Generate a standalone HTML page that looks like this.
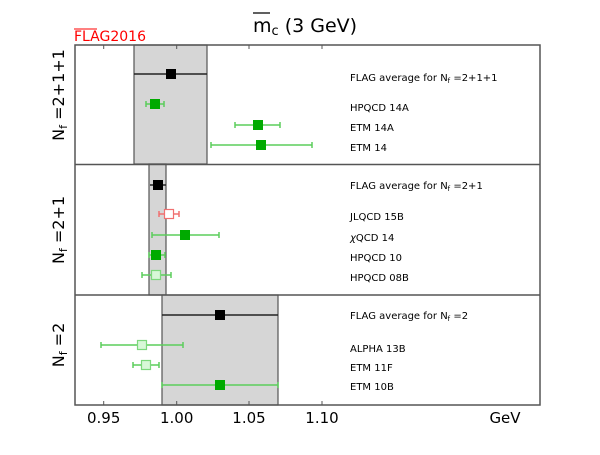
<!DOCTYPE html>
<html><head><style>
html,body{margin:0;padding:0;background:#fff}
svg text{font-family:"DejaVu Sans","Liberation Sans",sans-serif}
</style></head><body>
<svg width="600" height="450" xmlns="http://www.w3.org/2000/svg">
<rect width="600" height="450" fill="#fff"/>
<rect x="134" y="45" width="73" height="119" fill="#d6d6d6" stroke="#555" stroke-width="1.2"/>
<rect x="149" y="164" width="17" height="131" fill="#d6d6d6" stroke="#555" stroke-width="1.2"/>
<rect x="162" y="295" width="116" height="110" fill="#d6d6d6" stroke="#555" stroke-width="1.2"/>
<rect x="75" y="45" width="465" height="360" fill="none" stroke="#555" stroke-width="1.5"/>
<line x1="75" y1="164.5" x2="540" y2="164.5" stroke="#555" stroke-width="1.5"/>
<line x1="75" y1="295" x2="540" y2="295" stroke="#555" stroke-width="1.5"/>
<g stroke="#555" stroke-width="1">
<line x1="103.7" y1="405" x2="103.7" y2="401"/><line x1="176.7" y1="405" x2="176.7" y2="401"/><line x1="249" y1="405" x2="249" y2="401"/><line x1="322" y1="405" x2="322" y2="401"/>
<line x1="103.7" y1="45" x2="103.7" y2="49"/><line x1="176.7" y1="45" x2="176.7" y2="49"/><line x1="249" y1="45" x2="249" y2="49"/><line x1="322" y1="45" x2="322" y2="49"/>
</g>
<g font-size="15" text-anchor="middle" fill="#000">
<text x="103.7" y="423">0.95</text><text x="176.7" y="423">1.00</text><text x="249" y="423">1.05</text><text x="322" y="423">1.10</text>
</g>
<text x="505" y="423" font-size="15" text-anchor="middle">GeV</text>
<text x="253" y="32" font-size="19">m<tspan font-size="13" dy="3">c</tspan><tspan dy="-3"> (3 GeV)</tspan></text>
<line x1="253" y1="13" x2="270" y2="13" stroke="#000" stroke-width="1.2"/>
<text x="74" y="41" font-size="14" fill="#f00">FLAG2016</text>
<line x1="74" y1="29" x2="97" y2="29" stroke="#f00" stroke-width="1"/>
<g font-size="16" text-anchor="middle">
<text transform="translate(64,95) rotate(-90)">N<tspan font-size="11" dy="3">f</tspan><tspan dy="-3"> =2+1+1</tspan></text>
<text transform="translate(64,230) rotate(-90)">N<tspan font-size="11" dy="3">f</tspan><tspan dy="-3"> =2+1</tspan></text>
<text transform="translate(64,345) rotate(-90)">N<tspan font-size="11" dy="3">f</tspan><tspan dy="-3"> =2</tspan></text>
</g>
<g stroke="#222" stroke-width="1.5">
<line x1="134" y1="74" x2="207" y2="74"/><line x1="150" y1="185" x2="166" y2="185"/><line x1="162" y1="315" x2="278" y2="315"/>
</g>
<g fill="#000">
<rect x="166" y="69" width="10" height="10"/><rect x="153" y="180" width="10" height="10"/><rect x="215" y="310" width="10" height="10"/>
</g>
<g stroke="#5ccd5c" stroke-width="1.5">
<line x1="146" y1="104" x2="164" y2="104"/><line x1="146" y1="101" x2="146" y2="107"/><line x1="164" y1="101" x2="164" y2="107"/>
<line x1="235" y1="125" x2="280" y2="125"/><line x1="235" y1="122" x2="235" y2="128"/><line x1="280" y1="122" x2="280" y2="128"/>
<line x1="211" y1="145" x2="312" y2="145"/><line x1="211" y1="142" x2="211" y2="148"/><line x1="312" y1="142" x2="312" y2="148"/>
<line x1="152" y1="235" x2="219" y2="235"/><line x1="152" y1="232" x2="152" y2="238"/><line x1="219" y1="232" x2="219" y2="238"/>
<line x1="149" y1="255" x2="165" y2="255"/><line x1="149" y1="252" x2="149" y2="258"/><line x1="165" y1="252" x2="165" y2="258"/>
<line x1="142" y1="275" x2="171" y2="275"/><line x1="142" y1="272" x2="142" y2="278"/><line x1="171" y1="272" x2="171" y2="278"/>
<line x1="101" y1="345" x2="183" y2="345"/><line x1="101" y1="342" x2="101" y2="348"/><line x1="183" y1="342" x2="183" y2="348"/>
<line x1="133" y1="365" x2="159" y2="365"/><line x1="133" y1="362" x2="133" y2="368"/><line x1="159" y1="362" x2="159" y2="368"/>
<line x1="162" y1="385" x2="278" y2="385"/><line x1="162" y1="382" x2="162" y2="388"/><line x1="278" y1="382" x2="278" y2="388"/>
</g>
<g stroke="#f07070" stroke-width="1.5">
<line x1="159" y1="214" x2="179" y2="214"/><line x1="159" y1="211" x2="159" y2="217"/><line x1="179" y1="211" x2="179" y2="217"/>
</g>
<g fill="#00aa00">
<rect x="150" y="99" width="10" height="10"/><rect x="253" y="120" width="10" height="10"/><rect x="256" y="140" width="10" height="10"/>
<rect x="180" y="230" width="10" height="10"/><rect x="151" y="250" width="10" height="10"/><rect x="215" y="380" width="10" height="10"/>
</g>
<rect x="164.5" y="209.5" width="9" height="9" fill="#fff" stroke="#f07070" stroke-width="1.2"/>
<g fill="#d8f8d8" stroke="#7cd87c" stroke-width="1.2">
<rect x="151.5" y="270.5" width="9" height="9"/><rect x="137.5" y="340.5" width="9" height="9"/><rect x="141.5" y="360.5" width="9" height="9"/>
</g>
<g font-size="10" fill="#000">
<text x="350" y="81">FLAG average for N<tspan font-size="7" dy="2">f</tspan><tspan dy="-2"> =2+1+1</tspan></text>
<text x="350" y="111">HPQCD 14A</text><text x="350" y="131">ETM 14A</text><text x="350" y="151">ETM 14</text>
<text x="350" y="189">FLAG average for N<tspan font-size="7" dy="2">f</tspan><tspan dy="-2"> =2+1</tspan></text>
<text x="350" y="220">JLQCD 15B</text><text x="350" y="241"><tspan font-style="italic">χ</tspan>QCD 14</text><text x="350" y="261">HPQCD 10</text><text x="350" y="281">HPQCD 08B</text>
<text x="350" y="319">FLAG average for N<tspan font-size="7" dy="2">f</tspan><tspan dy="-2"> =2</tspan></text>
<text x="350" y="352">ALPHA 13B</text><text x="350" y="371">ETM 11F</text><text x="350" y="390">ETM 10B</text>
</g>
</svg>
</body></html>
